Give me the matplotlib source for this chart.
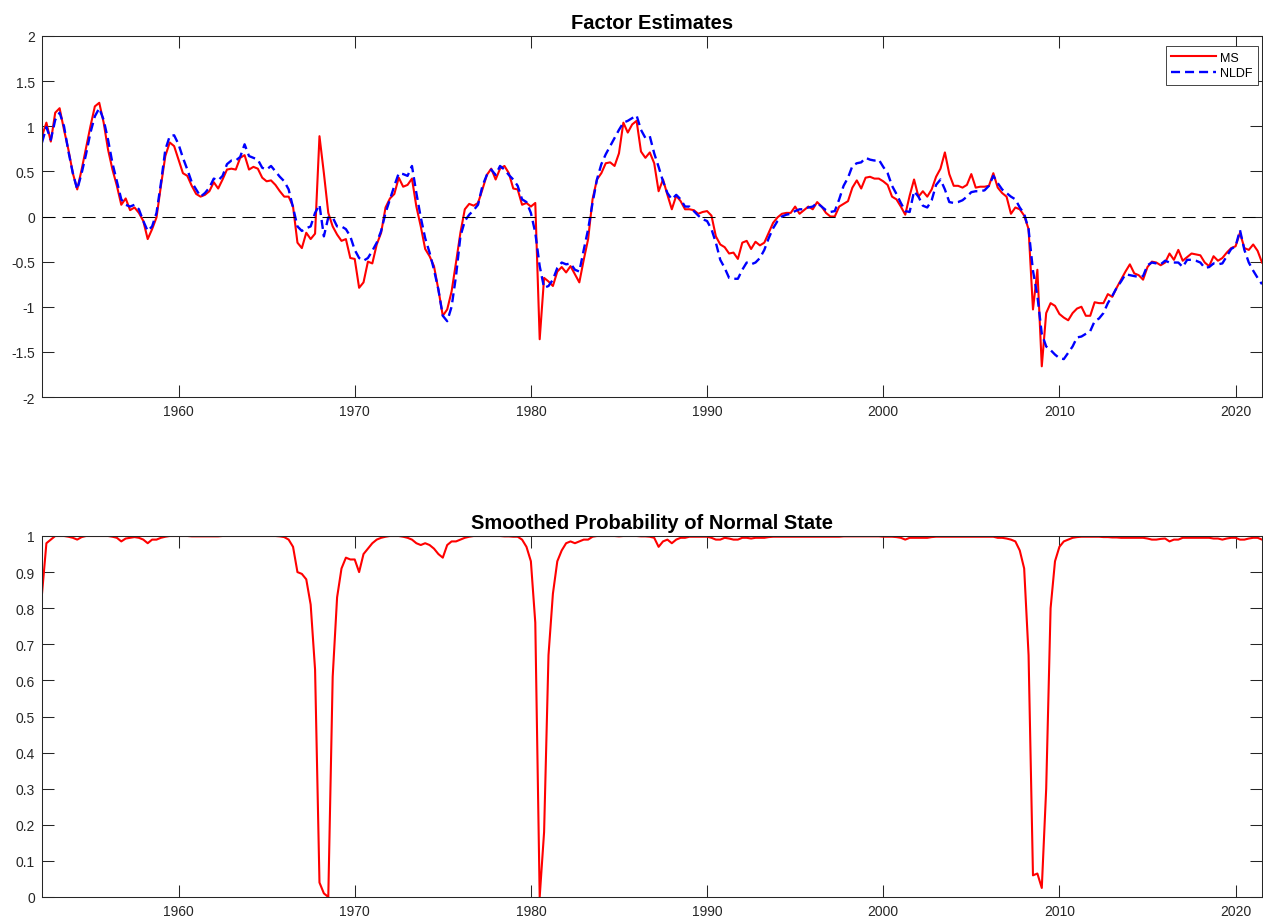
import numpy as np
import matplotlib
matplotlib.use("Agg")
import matplotlib.pyplot as plt

plt.rcParams['font.family'] = ['Liberation Sans', 'DejaVu Sans']
plt.rcParams['axes.unicode_minus'] = False
plt.rcParams['lines.scale_dashes'] = False

# quarterly sample, first observation 1952.25
start_year = 1952.25

# Markov-switching factor estimate
ms_factor = [
    0.89, 1.04, 0.83, 1.15, 1.20, 0.96, 0.74, 0.48, 0.30, 0.52,
    0.76, 1.00, 1.22, 1.26, 1.04, 0.74, 0.52, 0.34, 0.13, 0.20,
    0.07, 0.10, 0.04, -0.05, -0.25, -0.14, -0.01, 0.34, 0.67, 0.82,
    0.78, 0.63, 0.48, 0.45, 0.34, 0.25, 0.22, 0.24, 0.28, 0.38,
    0.31, 0.41, 0.52, 0.53, 0.52, 0.65, 0.68, 0.52, 0.55, 0.53,
    0.43, 0.39, 0.40, 0.35, 0.28, 0.22, 0.22, 0.11, -0.29, -0.35,
    -0.18, -0.25, -0.19, 0.89, 0.48, 0.04, -0.11, -0.20, -0.27, -0.25,
    -0.46, -0.47, -0.79, -0.73, -0.50, -0.52, -0.31, -0.18, 0.10, 0.20,
    0.25, 0.43, 0.33, 0.35, 0.42, 0.11, -0.11, -0.36, -0.44, -0.55,
    -0.81, -1.10, -1.03, -0.83, -0.51, -0.18, 0.08, 0.14, 0.12, 0.15,
    0.30, 0.46, 0.53, 0.41, 0.53, 0.56, 0.48, 0.31, 0.30, 0.13,
    0.15, 0.11, 0.15, -1.36, -0.68, -0.72, -0.77, -0.61, -0.56, -0.62,
    -0.55, -0.64, -0.73, -0.48, -0.25, 0.19, 0.41, 0.48, 0.59, 0.60,
    0.56, 0.70, 1.04, 0.93, 1.02, 1.06, 0.72, 0.65, 0.71, 0.59,
    0.28, 0.41, 0.24, 0.08, 0.23, 0.17, 0.08, 0.08, 0.07, 0.03,
    0.05, 0.06, 0.01, -0.22, -0.31, -0.34, -0.41, -0.40, -0.47, -0.29,
    -0.27, -0.36, -0.28, -0.32, -0.29, -0.18, -0.07, -0.01, 0.03, 0.04,
    0.04, 0.11, 0.03, 0.07, 0.11, 0.08, 0.16, 0.11, 0.04, 0.00,
    0.00, 0.11, 0.14, 0.17, 0.32, 0.40, 0.31, 0.43, 0.44, 0.42,
    0.42, 0.39, 0.35, 0.22, 0.19, 0.11, 0.02, 0.23, 0.41, 0.22,
    0.28, 0.22, 0.30, 0.44, 0.53, 0.71, 0.47, 0.34, 0.34, 0.32,
    0.35, 0.47, 0.32, 0.33, 0.33, 0.34, 0.48, 0.32, 0.26, 0.22,
    0.03, 0.10, 0.08, 0.01, -0.14, -1.03, -0.59, -1.66, -1.07, -0.96,
    -0.99, -1.08, -1.12, -1.15, -1.07, -1.02, -1.00, -1.10, -1.10, -0.95,
    -0.96, -0.96, -0.86, -0.89, -0.79, -0.70, -0.61, -0.53, -0.63, -0.65,
    -0.70, -0.56, -0.50, -0.51, -0.54, -0.51, -0.41, -0.48, -0.37, -0.49,
    -0.45, -0.41, -0.42, -0.43, -0.51, -0.55, -0.44, -0.49, -0.46, -0.40,
    -0.35, -0.33, -0.18, -0.35, -0.37, -0.31, -0.38, -0.51,
]

# nonlinear dynamic factor estimate
nldf_factor = [
    0.82, 0.99, 0.85, 1.07, 1.15, 1.00, 0.72, 0.48, 0.30, 0.48,
    0.69, 0.93, 1.11, 1.20, 1.07, 0.85, 0.59, 0.39, 0.19, 0.13,
    0.11, 0.13, 0.08, -0.05, -0.16, -0.11, 0.04, 0.37, 0.74, 0.89,
    0.90, 0.80, 0.65, 0.52, 0.38, 0.30, 0.22, 0.26, 0.32, 0.42,
    0.40, 0.45, 0.58, 0.62, 0.62, 0.66, 0.80, 0.67, 0.65, 0.63,
    0.54, 0.52, 0.56, 0.50, 0.44, 0.39, 0.30, 0.10, -0.11, -0.16,
    -0.13, -0.11, 0.04, 0.13, -0.22, -0.01, -0.01, -0.11, -0.11, -0.14,
    -0.22, -0.37, -0.46, -0.49, -0.46, -0.38, -0.29, -0.16, 0.04, 0.19,
    0.34, 0.48, 0.47, 0.45, 0.56, 0.26, -0.01, -0.24, -0.40, -0.59,
    -0.81, -1.10, -1.16, -1.00, -0.66, -0.22, -0.05, 0.02, 0.07, 0.13,
    0.34, 0.46, 0.52, 0.46, 0.56, 0.52, 0.46, 0.41, 0.34, 0.19,
    0.16, 0.04, -0.18, -0.55, -0.79, -0.77, -0.70, -0.57, -0.51, -0.53,
    -0.52, -0.59, -0.61, -0.37, -0.14, 0.15, 0.41, 0.58, 0.69, 0.78,
    0.87, 0.96, 1.04, 1.06, 1.09, 1.12, 0.96, 0.87, 0.89, 0.70,
    0.55, 0.39, 0.26, 0.19, 0.24, 0.19, 0.11, 0.11, 0.06, 0.01,
    -0.03, -0.05, -0.14, -0.29, -0.48, -0.57, -0.68, -0.69, -0.69, -0.59,
    -0.51, -0.53, -0.51, -0.46, -0.37, -0.24, -0.13, -0.05, 0.00, 0.02,
    0.03, 0.06, 0.08, 0.08, 0.10, 0.11, 0.15, 0.11, 0.07, 0.05,
    0.06, 0.19, 0.34, 0.43, 0.56, 0.59, 0.60, 0.65, 0.63, 0.62,
    0.63, 0.55, 0.48, 0.34, 0.25, 0.15, 0.06, 0.05, 0.28, 0.22,
    0.12, 0.10, 0.18, 0.35, 0.41, 0.30, 0.16, 0.15, 0.16, 0.18,
    0.22, 0.27, 0.28, 0.28, 0.29, 0.34, 0.45, 0.37, 0.30, 0.26,
    0.22, 0.19, 0.10, 0.03, -0.14, -0.60, -0.88, -1.30, -1.44, -1.48,
    -1.53, -1.57, -1.58, -1.51, -1.44, -1.34, -1.33, -1.30, -1.27, -1.16,
    -1.13, -1.07, -0.96, -0.88, -0.79, -0.72, -0.64, -0.65, -0.66, -0.67,
    -0.66, -0.54, -0.51, -0.52, -0.53, -0.49, -0.51, -0.51, -0.51, -0.56,
    -0.48, -0.48, -0.49, -0.51, -0.57, -0.56, -0.52, -0.53, -0.52, -0.44,
    -0.36, -0.33, -0.15, -0.37, -0.51, -0.60, -0.68, -0.75,
]

# smoothed probability of the normal (expansion) regime
prob_normal = [
    0.84, 0.98, 0.99, 1.00, 1.00, 1.00, 0.998, 0.995, 0.99, 0.997,
    1.00, 1.00, 1.00, 1.00, 1.00, 1.00, 0.998, 0.995, 0.985, 0.993,
    0.995, 0.997, 0.995, 0.99, 0.98, 0.99, 0.99, 0.995, 0.998, 1.00,
    1.00, 1.00, 1.00, 1.00, 0.999, 0.999, 0.999, 0.999, 0.999, 0.999,
    0.999, 1.00, 1.00, 1.00, 1.00, 1.00, 1.00, 1.00, 1.00, 1.00,
    1.00, 1.00, 1.00, 1.00, 0.999, 0.997, 0.99, 0.97, 0.90, 0.895,
    0.88, 0.81, 0.63, 0.04, 0.01, 0.00, 0.61, 0.83, 0.91, 0.94,
    0.935, 0.935, 0.90, 0.95, 0.965, 0.98, 0.99, 0.995, 0.998, 1.00,
    1.00, 1.00, 0.998, 0.995, 0.99, 0.98, 0.975, 0.98, 0.975, 0.965,
    0.95, 0.94, 0.975, 0.985, 0.985, 0.99, 0.995, 0.998, 1.00, 1.00,
    1.00, 1.00, 1.00, 1.00, 1.00, 0.999, 0.999, 0.998, 0.998, 0.99,
    0.97, 0.93, 0.76, 0.00, 0.18, 0.67, 0.84, 0.93, 0.96, 0.98,
    0.985, 0.98, 0.985, 0.99, 0.99, 0.998, 1.00, 1.00, 1.00, 1.00,
    1.00, 0.999, 1.00, 1.00, 1.00, 1.00, 0.999, 0.999, 0.998, 0.995,
    0.97, 0.985, 0.99, 0.98, 0.99, 0.995, 0.995, 0.998, 0.998, 0.998,
    0.998, 0.998, 0.995, 0.99, 0.99, 0.995, 0.993, 0.99, 0.99, 0.995,
    0.995, 0.993, 0.995, 0.995, 0.995, 0.997, 0.998, 0.998, 0.998, 0.998,
    0.998, 0.998, 0.998, 0.998, 0.998, 0.998, 0.998, 0.998, 0.998, 0.998,
    0.998, 0.998, 0.999, 0.999, 0.999, 0.999, 0.999, 0.999, 0.999, 0.999,
    0.999, 0.998, 0.998, 0.998, 0.997, 0.995, 0.99, 0.995, 0.995, 0.995,
    0.995, 0.995, 0.997, 0.998, 0.998, 0.998, 0.998, 0.998, 0.998, 0.998,
    0.998, 0.998, 0.998, 0.998, 0.998, 0.998, 0.998, 0.995, 0.995, 0.993,
    0.99, 0.985, 0.96, 0.91, 0.67, 0.06, 0.065, 0.025, 0.30, 0.80,
    0.93, 0.97, 0.985, 0.99, 0.995, 0.997, 0.998, 0.998, 0.998, 0.998,
    0.998, 0.997, 0.997, 0.996, 0.996, 0.995, 0.995, 0.995, 0.995, 0.995,
    0.995, 0.993, 0.99, 0.99, 0.992, 0.993, 0.985, 0.99, 0.99, 0.995,
    0.995, 0.995, 0.995, 0.995, 0.995, 0.995, 0.993, 0.993, 0.99, 0.993,
    0.995, 0.995, 0.99, 0.99, 0.993, 0.995, 0.995, 0.99,
]

dates = start_year + np.arange(len(ms_factor)) / 4
x_ticks = [1960, 1970, 1980, 1990, 2000, 2010, 2020]
axis_grey = '#262626'


def style_axes(ax):
    for side in ax.spines.values():
        side.set_color(axis_grey)
        side.set_linewidth(0.75)
    ax.tick_params(direction='in', length=8.6, width=0.75, colors=axis_grey,
                   labelsize=10, top=True, right=True, pad=5)
    ax.set_xticks(x_ticks)
    ax.set_xlim(dates[0], dates[-1])


fig = plt.figure(figsize=(12.63, 9.2), dpi=100)
ax1 = fig.add_axes([42 / 1263, 1 - 398 / 920, 1220 / 1263, 361 / 920])
ax2 = fig.add_axes([42 / 1263, 1 - 898 / 920, 1220 / 1263, 361 / 920])

# top panel: the two factor estimates
ax1.plot(dates, ms_factor, color='red', lw=1.5, label='MS')
ax1.plot(dates, nldf_factor, color='blue', lw=1.7, dashes=(6.5, 3.6), label='NLDF')
ax1.axhline(0, color='black', lw=0.75, dashes=(9.4, 5))
ax1.set_ylim(-2, 2)
ax1.set_yticks(np.arange(-2, 2.01, 0.5))
ax1.set_yticklabels(['-2', '-1.5', '-1', '-0.5', '0', '0.5', '1', '1.5', '2'])
style_axes(ax1)
ax1.set_title('Factor Estimates', fontsize=14.5, fontweight='bold', pad=5.5)
leg = ax1.legend(loc='upper right', bbox_to_anchor=(1 - 4 / 1220, 1 - 10 / 361),
                 borderaxespad=0, fontsize=9, handlelength=3.6, handletextpad=0.3,
                 borderpad=0.45, labelspacing=0.3, fancybox=False, framealpha=1)
leg.get_frame().set_edgecolor(axis_grey)
leg.get_frame().set_linewidth(0.6)

# bottom panel: regime probability
ax2.plot(dates, prob_normal, color='red', lw=1.5)
ax2.set_ylim(0, 1)
ax2.set_yticks(np.arange(0, 1.01, 0.1))
ax2.set_yticklabels(['0', '0.1', '0.2', '0.3', '0.4', '0.5', '0.6', '0.7', '0.8', '0.9', '1'])
style_axes(ax2)
ax2.set_title('Smoothed Probability of Normal State', fontsize=14.5, fontweight='bold', pad=6)

fig.savefig('out.png', dpi=100)
